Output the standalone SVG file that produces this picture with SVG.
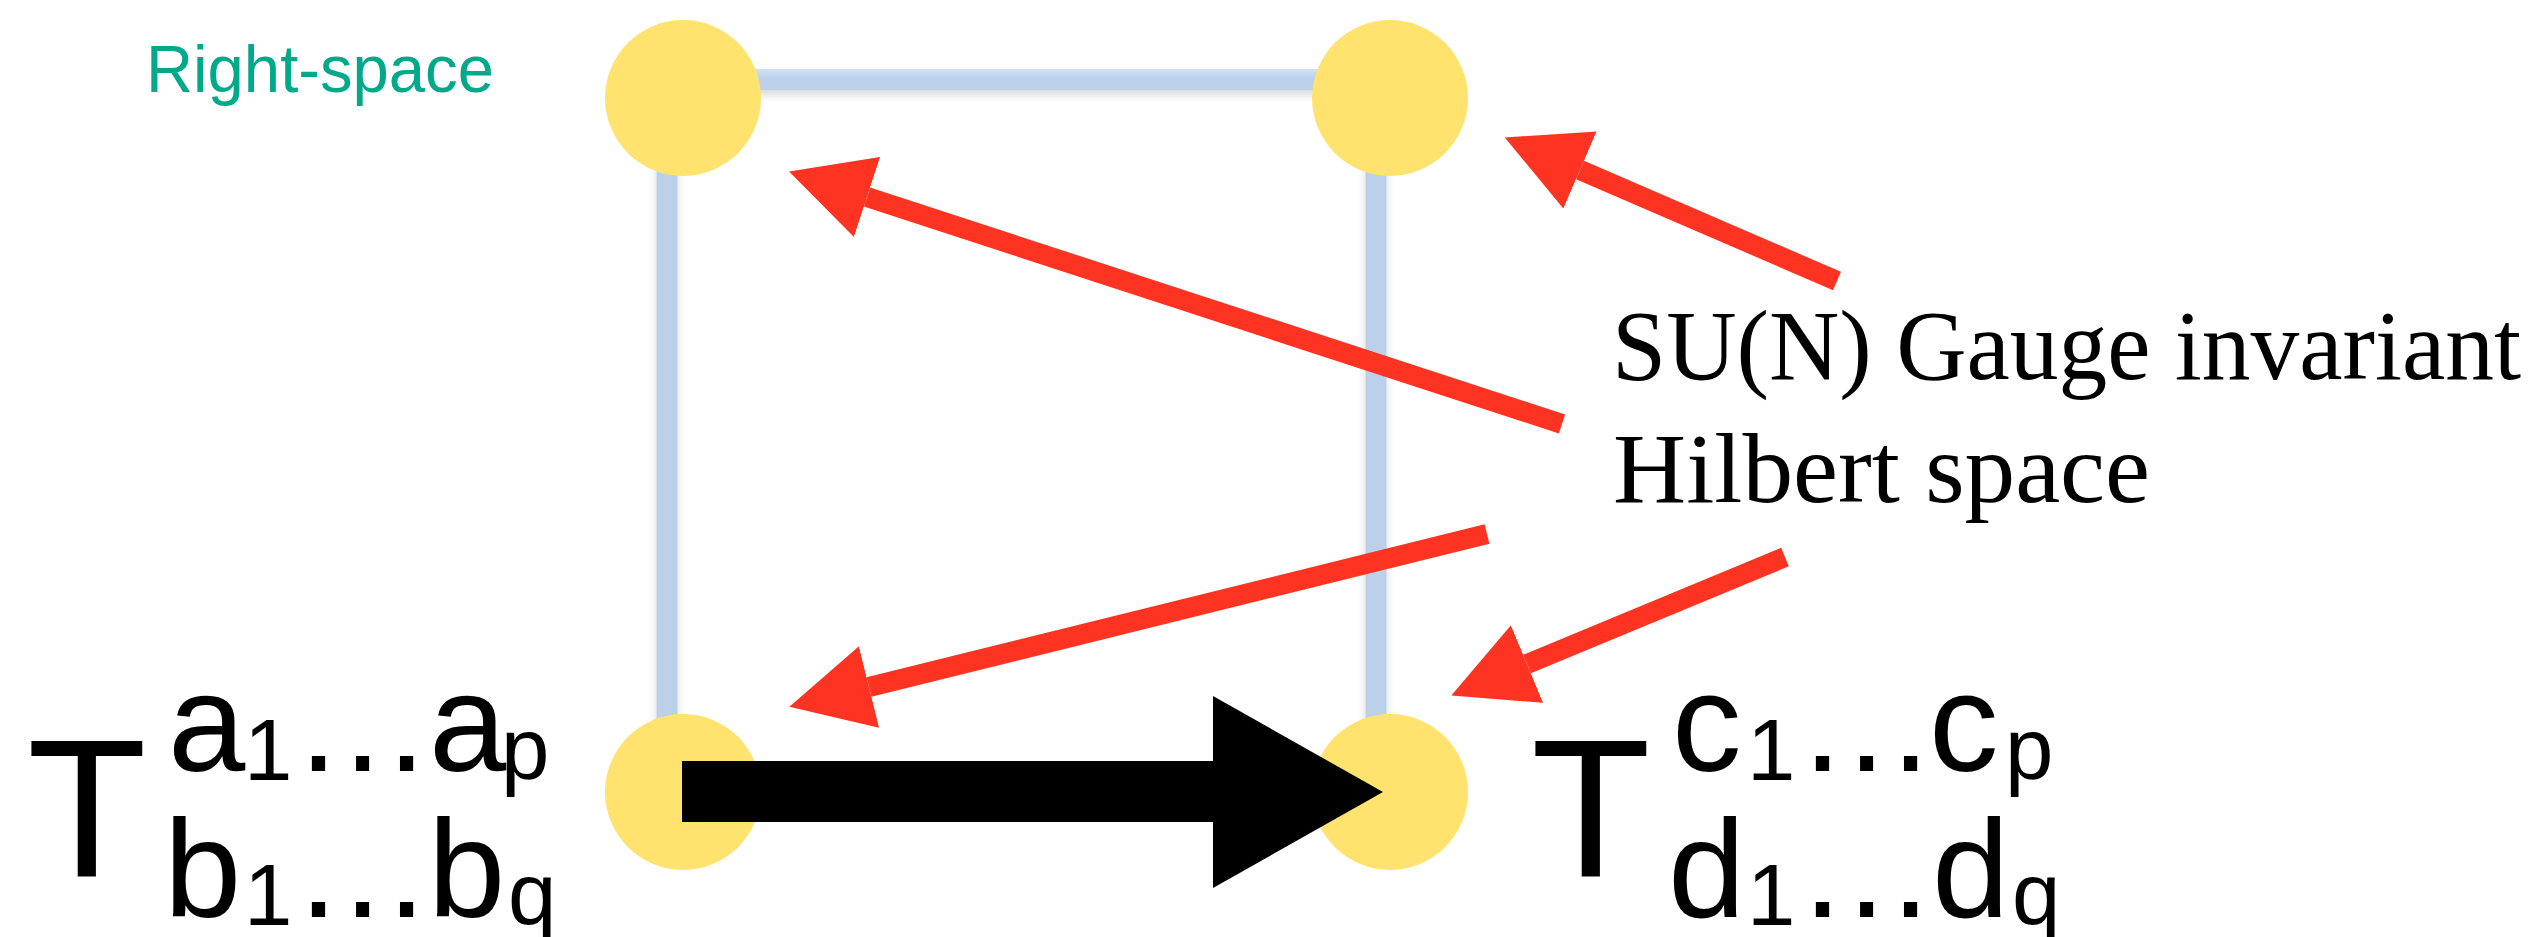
<svg xmlns="http://www.w3.org/2000/svg" width="2534" height="937" viewBox="0 0 2534 937">
<style>
.node{fill:#FFE36E}
.edge{stroke:#BCD0EA;stroke-width:21;fill:none}
.red{stroke:#FF3322;stroke-width:20;fill:none}
.sans{font-family:"Liberation Sans",Arial,Helvetica,sans-serif;fill:#000}
.serif{font-family:"Liberation Serif","Times New Roman",serif;fill:#000;font-size:100px}
.teal{font-family:"Liberation Sans",Arial,Helvetica,sans-serif;fill:#00A98A;font-size:66px}
.big{font-size:196px}
.mid{font-size:139px}
.sub{font-size:87px}
</style>
<defs>
<linearGradient id="edgeGrad" x1="0" y1="0" x2="0" y2="1">
<stop offset="0" stop-color="#D0E1F7"/>
<stop offset="0.5" stop-color="#BCD0EA"/>
<stop offset="1" stop-color="#BCD0EA"/>
</linearGradient>
<filter id="shadow" x="-10%" y="-50%" width="120%" height="250%">
<feDropShadow dx="0" dy="5" stdDeviation="4" flood-color="#000" flood-opacity="0.15"/>
</filter>
<marker id="redHead" markerUnits="userSpaceOnUse" markerWidth="82" markerHeight="84" viewBox="0 0 82 84" refX="0" refY="42" orient="auto">
<path d="M0,0 L82,42 L0,84 Z" fill="#FF3322"/>
</marker>
</defs>

<g id="edges" filter="url(#shadow)">
<rect x="683" y="69" width="707" height="21" fill="url(#edgeGrad)"/>
<line class="edge" x1="667" y1="120" x2="667" y2="770"/>
<line class="edge" x1="1376" y1="120" x2="1376" y2="770"/>
</g>

<g id="node-top-left"><ellipse class="node" cx="683" cy="98" rx="78" ry="78"/></g>
<g id="node-top-right"><ellipse class="node" cx="1390" cy="98" rx="78" ry="78"/></g>
<g id="node-bottom-left"><ellipse class="node" cx="683" cy="792" rx="78" ry="78"/></g>
<g id="node-bottom-right"><ellipse class="node" cx="1390" cy="792" rx="78" ry="78"/></g>

<g id="connectors">
<polygon points="682,761 1213,761 1213,696 1383,792 1213,888 1213,822 682,822" fill="#000"/>
<line class="red" x1="1562" y1="424" x2="867" y2="197" marker-end="url(#redHead)"/>
<line class="red" x1="1837" y1="281" x2="1580" y2="170" marker-end="url(#redHead)"/>
<line class="red" x1="1487" y1="534" x2="869" y2="687" marker-end="url(#redHead)"/>
<line class="red" x1="1785" y1="557" x2="1527" y2="664" marker-end="url(#redHead)"/>
</g>

<g id="label-right-space"><text class="teal" x="146" y="92" textLength="348" lengthAdjust="spacingAndGlyphs">Right-space</text></g>

<g id="label-hilbert">
<text class="serif" x="1612" y="379" textLength="909" lengthAdjust="spacingAndGlyphs">SU(N) Gauge invariant</text>
<text class="serif" x="1613" y="502" textLength="537" lengthAdjust="spacingAndGlyphs">Hilbert space</text>
</g>

<g id="label-tensor-left">
<text class="sans big" x="27" y="877">T</text>
<text class="sans"><tspan class="mid" x="168" y="771">a</tspan><tspan class="sub" x="244" y="780">1</tspan><tspan class="mid" x="293" y="771">…</tspan><tspan class="mid" x="429" y="771">a</tspan><tspan class="sub" x="501" y="779">p</tspan></text>
<text class="sans"><tspan class="mid" x="164" y="917">b</tspan><tspan class="sub" x="244" y="925">1</tspan><tspan class="mid" x="293" y="917">…</tspan><tspan class="mid" x="428" y="917">b</tspan><tspan class="sub" x="508" y="924">q</tspan></text>
</g>

<g id="label-tensor-right">
<text class="sans big" x="1531" y="877">T</text>
<text class="sans"><tspan class="mid" x="1672" y="771">c</tspan><tspan class="sub" x="1747" y="780">1</tspan><tspan class="mid" x="1797" y="771">…</tspan><tspan class="mid" x="1929" y="771">c</tspan><tspan class="sub" x="2005" y="779">p</tspan></text>
<text class="sans"><tspan class="mid" x="1668" y="917">d</tspan><tspan class="sub" x="1747" y="925">1</tspan><tspan class="mid" x="1797" y="917">…</tspan><tspan class="mid" x="1932" y="917">d</tspan><tspan class="sub" x="2012" y="924">q</tspan></text>
</g>
</svg>
